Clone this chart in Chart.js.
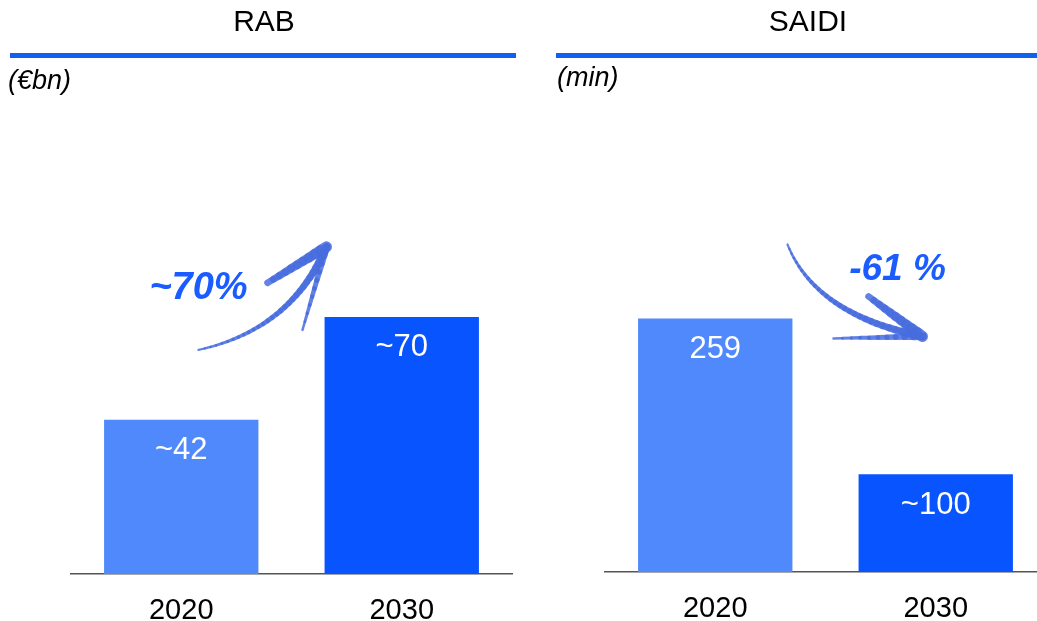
<!DOCTYPE html>
<html>
<head>
<meta charset="utf-8">
<script src="https://cdn.jsdelivr.net/npm/chart.js@4"></script>
<style>
    html, body { margin: 0; padding: 0; background: #fff; overflow: hidden; width: 1037px; height: 621px; }
    canvas { position: absolute; top: 0; }
    #rabChart { left: 0; }
    #saidiChart { left: 556px; }
</style>
</head>
<body>
<canvas id="rabChart" width="520" height="648"></canvas>
<canvas id="saidiChart" width="490" height="648"></canvas>

<script>
// Data
const years = ['2020', '2030'];
const rabValues = [42, 70];
const rabLabels = ['~42', '~70'];
const saidiValues = [259, 100];
const saidiLabels = ['259', '~100'];
const rabChange = '~70%';
const saidiChange = '-61 %';

const barColors = ['#5089FC', '#0854FF'];
const FONT = "'Liberation Sans', Arial, sans-serif";

// taper line through points
function taper(ctx, pts, w0, w1) {
    ctx.lineCap = 'round';
    for (let i = 1; i < pts.length; i++) {
        ctx.lineWidth = w0 + (w1 - w0) * i / (pts.length - 1);
        ctx.beginPath();
        ctx.moveTo(pts[i - 1][0], pts[i - 1][1]);
        ctx.lineTo(pts[i][0], pts[i][1]);
        ctx.stroke();
    }
}

function quad(a, c, b, n) {
    const pts = [];
    for (let i = 0; i <= n; i++) {
        const t = i / n;
        pts.push([
            (1 - t) * (1 - t) * a[0] + 2 * t * (1 - t) * c[0] + t * t * b[0],
            (1 - t) * (1 - t) * a[1] + 2 * t * (1 - t) * c[1] + t * t * b[1]
        ]);
    }
    return pts;
}

function line(a, b, n) {
    const pts = [];
    for (let i = 0; i <= n; i++) {
        const t = i / n;
        pts.push([a[0] + (b[0] - a[0]) * t, a[1] + (b[1] - a[1]) * t]);
    }
    return pts;
}

// Koptekst, lijn en eenheid
const headerPlugin = {
    id: 'header',
    afterDraw(chart, args, opts) {
        const ctx = chart.ctx;
        ctx.save();
        ctx.fillStyle = '#000';
        ctx.textBaseline = 'middle';
        ctx.textAlign = 'center';
        ctx.font = '30px ' + FONT;
        ctx.fillText(opts.title, opts.titleX, 23);

        ctx.fillStyle = '#1160F0';
        ctx.fillRect(opts.lineX0, 53, opts.lineX1 - opts.lineX0, 5);

        ctx.fillStyle = '#000';
        ctx.textAlign = 'left';
        ctx.font = 'italic 27px ' + FONT;
        ctx.fillText(opts.sub, opts.subX, opts.subY);
        ctx.restore();
    }
};

// Waarden in de staven + pijl
const barTextPlugin = {
    id: 'barText',
    afterDatasetsDraw(chart, args, opts) {
        const ctx = chart.ctx;
        const bars = chart.getDatasetMeta(0).data;
        ctx.save();
        ctx.fillStyle = '#fff';
        ctx.font = '31px ' + FONT;
        ctx.textAlign = 'center';
        ctx.textBaseline = 'middle';
        bars.forEach((b, i) => ctx.fillText(opts.labels[i], b.x, b.y + 31));

        const mx = (bars[0].x + bars[1].x) / 2;
        ctx.strokeStyle = 'rgba(72,108,222,0.85)';
        if (opts.dir === 'up') {
            const y = bars[1].y;
            const tip = [mx + 35, y - 70];
            taper(ctx, quad([mx - 93, y + 33], [mx - 1, y + 13], tip, 30), 2, 8);
            taper(ctx, line([mx - 24, y - 34], tip, 10), 6, 11);
            taper(ctx, line([mx + 11, y + 13], tip, 10), 2, 7);
            ctx.fillStyle = '#1A5CFF';
            ctx.font = 'italic bold 38px ' + FONT;
            ctx.fillText(opts.change, mx - 93, y - 28);
        } else {
            const y = bars[0].y;
            const tip = [mx + 97, y + 18];
            taper(ctx, quad([mx - 38, y - 74], [mx - 10, y - 4], tip, 30), 2, 8);
            taper(ctx, line([mx + 43, y - 22], tip, 10), 6, 11);
            taper(ctx, line([mx + 8, y + 20], tip, 10), 2, 7);
            ctx.fillStyle = '#1A5CFF';
            ctx.font = 'italic bold 37px ' + FONT;
            ctx.fillText(opts.change, mx + 72, y - 49);
        }
        ctx.restore();
    }
};

function drawBarChart(id, values, labels, cfg) {
    const ctx = document.getElementById(id).getContext('2d');
    return new Chart(ctx, {
        type: 'bar',
        data: {
            labels: years,
            datasets: [{
                data: values,
                backgroundColor: barColors,
                barPercentage: 0.7,
                categoryPercentage: 1.0
            }]
        },
        options: {
            responsive: false,
            animation: false,
            layout: { padding: { top: 100, right: cfg.padRight, bottom: cfg.padBottom, left: 0 } },
            plugins: {
                legend: { display: false },
                tooltip: { enabled: false },
                header: cfg.header,
                barText: { labels: labels, change: cfg.change, dir: cfg.dir }
            },
            scales: {
                x: {
                    grid: { display: false, drawTicks: false },
                    border: { display: true, color: '#555', width: 1.5 },
                    ticks: { color: '#000', font: { family: FONT, size: 29 }, padding: 19 }
                },
                y: {
                    min: 0,
                    max: cfg.max,
                    grid: { display: false, drawTicks: false },
                    border: { display: false },
                    ticks: { display: false },
                    afterFit: s => { s.width = cfg.axisWidth; }
                }
            }
        },
        plugins: [headerPlugin, barTextPlugin]
    });
}

drawBarChart('rabChart', rabValues, rabLabels, {
    max: 129, axisWidth: 71, padRight: 8, padBottom: 1,
    change: rabChange, dir: 'up',
    header: { title: 'RAB', titleX: 264, lineX0: 10, lineX1: 516, sub: '(€bn)', subX: 8, subY: 81 }
});

drawBarChart('saidiChart', saidiValues, saidiLabels, {
    max: 482, axisWidth: 49, padRight: 0, padBottom: 3,
    change: saidiChange, dir: 'down',
    header: { title: 'SAIDI', titleX: 252, lineX0: 0, lineX1: 481, sub: '(min)', subX: 1, subY: 78 }
});
</script>
</body>
</html>
